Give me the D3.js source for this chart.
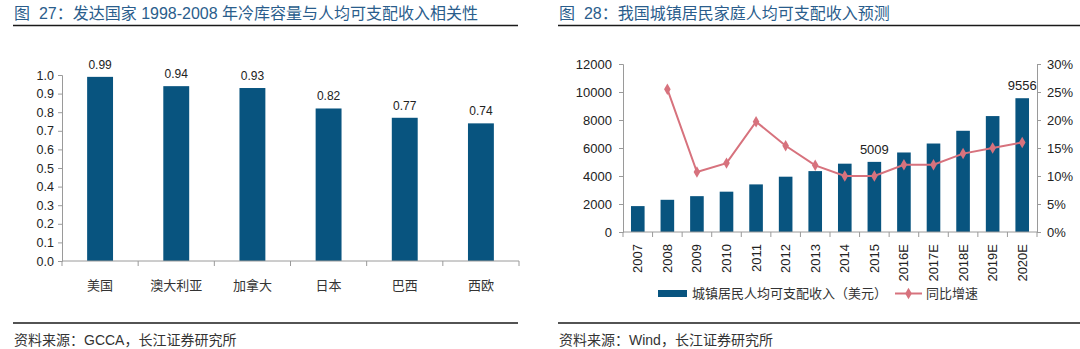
<!DOCTYPE html>
<html><head><meta charset="utf-8">
<script src="https://cdn.jsdelivr.net/npm/d3@7"></script>
<style>
body{margin:0;background:#fff;}
svg{display:block;font-family:"Liberation Sans",Arial,sans-serif;}
.cjk{font-family:"Liberation Sans","Noto Sans CJK SC",sans-serif;white-space:pre;}
</style></head>
<body>
<svg id="c" width="1080" height="349"></svg>
<script>
// ---- Data: chart 1 ----
const countries = ["美国","澳大利亚","加拿大","日本","巴西","西欧"];
const correlation = [0.99,0.94,0.93,0.82,0.77,0.74];
const yTicks1 = [0,0.1,0.2,0.3,0.4,0.5,0.6,0.7,0.8,0.9,1.0];
// ---- Data: chart 2 ----
const years = ["2007","2008","2009","2010","2011","2012","2013","2014","2015","2016E","2017E","2018E","2019E","2020E"];
const income = [1850,2300,2560,2880,3400,3950,4350,4880,5009,5680,6320,7230,8280,9556];
const growth = [null,25.5,10.7,12.3,19.7,15.4,11.9,10.0,10.0,12.0,12.0,14.0,15.0,16.0];
const incomeLabels = {"2015":"5009","2020E":"9556"};
const yTicksL = [0,2000,4000,6000,8000,10000,12000];
const yTicksR = [0,5,10,15,20,25,30];

const svg = d3.select("#c");
const titleColor = "#2a5d8c", barColor = "#08547f", lineColor = "#d7727d", axisColor = "#9a9a9a", txt = "#222";

// ---- Headers / footers ----
function frame(x0, x1, title, source){
  svg.append("text").attr("class","cjk").attr("x",x0+1).attr("y",19).attr("font-size",16)
    .attr("fill",titleColor).text(title);
  svg.append("line").attr("x1",x0).attr("x2",x1).attr("y1",25.5).attr("y2",25.5).attr("stroke","#1a1a1a").attr("stroke-width",1.6);
  svg.append("line").attr("x1",x0).attr("x2",x1).attr("y1",323).attr("y2",323).attr("stroke","#1a1a1a").attr("stroke-width",1.6);
  svg.append("text").attr("class","cjk").attr("x",x0+1).attr("y",345).attr("font-size",14)
    .attr("fill","#333").text(source);
}
frame(13, 518, "图  27：发达国家 1998-2008 年冷库容量与人均可支配收入相关性", "资料来源：GCCA，长江证券研究所");
frame(558, 1080, "图  28：我国城镇居民家庭人均可支配收入预测", "资料来源：Wind，长江证券研究所");

// ---- Chart 1 ----
{
  const x = d3.scaleBand().domain(countries).range([62,519]).paddingInner(0.66).paddingOuter(0.33);
  const y = d3.scaleLinear().domain([0,1]).range([261,75]);
  const g = svg.append("g");
  g.selectAll("rect").data(countries).join("rect")
    .attr("x",d=>x(d)).attr("width",x.bandwidth())
    .attr("y",(d,i)=>y(correlation[i])).attr("height",(d,i)=>y(0)-y(correlation[i]))
    .attr("fill",barColor);
  g.selectAll(".vl").data(countries).join("text").attr("class","vl")
    .attr("x",d=>x(d)+x.bandwidth()/2).attr("y",(d,i)=>y(correlation[i])-8)
    .attr("text-anchor","middle").attr("font-size",12).attr("fill",txt)
    .text((d,i)=>correlation[i].toFixed(2));
  const ya = g.append("g").attr("transform","translate(62,0)")
    .call(d3.axisLeft(y).tickValues(yTicks1).tickFormat(d3.format(".1f")).tickSize(4).tickPadding(4));
  ya.select(".domain").attr("stroke",axisColor);
  ya.selectAll(".tick line").attr("stroke",axisColor);
  ya.selectAll(".tick text").attr("font-size",12.5).attr("fill",txt).attr("font-family","Liberation Sans,Arial,sans-serif");
  const xa = g.append("g").attr("transform","translate(0,261)");
  xa.append("line").attr("x1",62).attr("x2",519).attr("stroke",axisColor);
  const bounds = d3.range(countries.length+1).map(i=>62+i*(457/countries.length));
  xa.selectAll(".tk").data(bounds).join("line").attr("x1",d=>d).attr("x2",d=>d).attr("y1",0).attr("y2",5).attr("stroke",axisColor);
  xa.selectAll(".lb").data(countries).join("text")
    .attr("x",d=>x(d)+x.bandwidth()/2).attr("y",29).attr("text-anchor","middle")
    .attr("font-family","Noto Sans CJK SC,sans-serif")
    .attr("font-size",13).attr("fill","#333").text(d=>d);
}

// ---- Chart 2 ----
{
  const x0 = 623, x1 = 1037, yb = 232, yt = 64;
  const x = d3.scaleBand().domain(years).range([x0,x1]).paddingInner(0.54).paddingOuter(0.27);
  const yL = d3.scaleLinear().domain([0,12000]).range([yb,yt]);
  const yR = d3.scaleLinear().domain([0,30]).range([yb,yt]);
  const g = svg.append("g");
  g.selectAll("rect").data(years).join("rect")
    .attr("x",d=>x(d)).attr("width",x.bandwidth())
    .attr("y",(d,i)=>yL(income[i])).attr("height",(d,i)=>yb-yL(income[i]))
    .attr("fill",barColor);
  g.selectAll(".vl").data(years.filter(d=>incomeLabels[d])).join("text").attr("class","vl")
    .attr("x",d=>x(d)+x.bandwidth()/2).attr("y",d=>yL(income[years.indexOf(d)])-8)
    .attr("text-anchor","middle").attr("font-size",13).attr("fill",txt).text(d=>incomeLabels[d]);
  const pts = years.map((d,i)=>({d, v:growth[i]})).filter(p=>p.v!==null);
  const line = d3.line().x(p=>x(p.d)+x.bandwidth()/2).y(p=>yR(p.v));
  g.append("path").datum(pts).attr("d",line).attr("fill","none").attr("stroke",lineColor).attr("stroke-width",2);
  g.selectAll(".mk").data(pts).join("path").attr("class","mk")
    .attr("transform",p=>`translate(${x(p.d)+x.bandwidth()/2},${yR(p.v)})`)
    .attr("d",d3.symbol(d3.symbolDiamond,38)).attr("fill",lineColor);
  const styleAxis = (a, fs)=>{
    a.select(".domain").attr("stroke",axisColor);
    a.selectAll(".tick line").attr("stroke",axisColor);
    a.selectAll(".tick text").attr("font-size",fs).attr("fill",txt).attr("font-family","Liberation Sans,Arial,sans-serif");
  };
  const al = g.append("g").attr("transform",`translate(${x0},0)`)
    .call(d3.axisLeft(yL).tickValues(yTicksL).tickFormat(d3.format("d")).tickSize(4).tickPadding(7));
  styleAxis(al, 13);
  const ar = g.append("g").attr("transform",`translate(${x1},0)`)
    .call(d3.axisRight(yR).tickValues(yTicksR).tickFormat(d=>d+"%").tickSize(4).tickPadding(6));
  styleAxis(ar, 13);
  const xa = g.append("g").attr("transform",`translate(0,${yb})`);
  xa.append("line").attr("x1",x0).attr("x2",x1).attr("stroke",axisColor);
  const bounds = d3.range(years.length+1).map(i=>x0+i*((x1-x0)/years.length));
  xa.selectAll(".tk").data(bounds).join("line").attr("x1",d=>d).attr("x2",d=>d).attr("y1",0).attr("y2",5).attr("stroke",axisColor);
  xa.selectAll(".lb").data(years).join("text")
    .attr("transform",d=>`translate(${x(d)+x.bandwidth()/2+4.5},12) rotate(-90)`)
    .attr("text-anchor","end").attr("font-size",13).attr("fill",txt).text(d=>d);
  const lg = svg.append("g");
  lg.append("rect").attr("x",658).attr("y",290).attr("width",29).attr("height",7).attr("fill",barColor);
  lg.append("text").attr("class","cjk").attr("x",692).attr("y",298).attr("font-size",13).attr("fill","#333").text("城镇居民人均可支配收入（美元）");
  lg.append("line").attr("x1",895).attr("x2",922).attr("y1",293.5).attr("y2",293.5).attr("stroke",lineColor).attr("stroke-width",2);
  lg.append("path").attr("transform","translate(908.5,293.5)").attr("d",d3.symbol(d3.symbolDiamond,38)).attr("fill",lineColor);
  lg.append("text").attr("class","cjk").attr("x",926).attr("y",298).attr("font-size",13).attr("fill","#333").text("同比增速");
}
</script>
</body></html>
